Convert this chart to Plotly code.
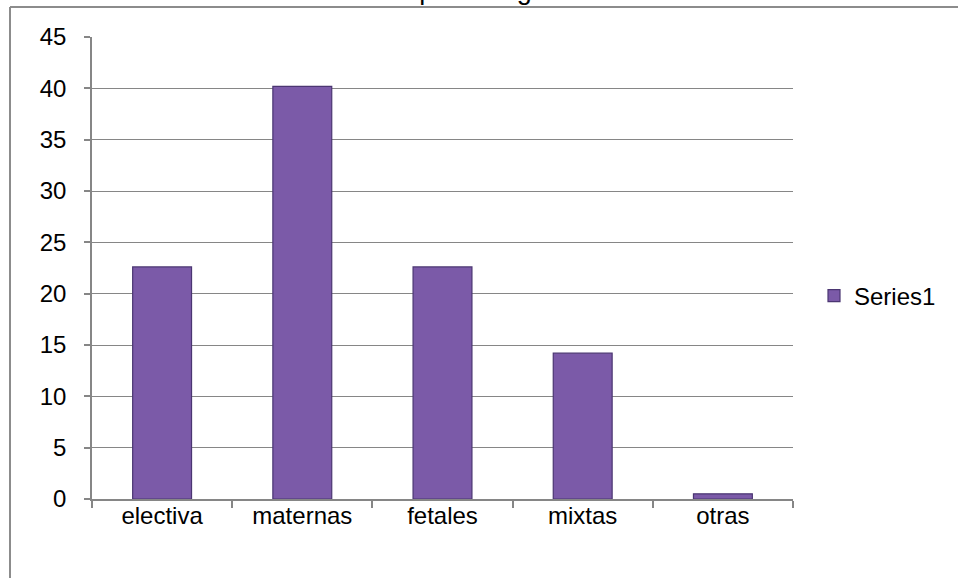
import plotly.graph_objects as go

categories = ["electiva", "maternas", "fetales", "mixtas", "otras"]
values = [22.6, 40.2, 22.6, 14.2, 0.5]
series_name = "Series1"
title_text = "Distribución de las indicaciones por categoría"
y_ticks = [0, 5, 10, 15, 20, 25, 30, 35, 40, 45]

W, H = 958, 578
L, R, T, B = 92, 165, 37, 79
pw, ph = W - L - R, H - T - B

def px_x(p):
    return (p - L) / pw

def px_y(p):
    return (H - B - p) / ph

fig = go.Figure()
fig.add_trace(go.Bar(
    x=categories, y=values, name=series_name,
    marker=dict(color="#7b5aa8", line=dict(color="#4b3672", width=1.2)),
    width=0.42, showlegend=True,
))

font = dict(family="Liberation Sans, Arial, sans-serif", size=24, color="#000000")

fig.update_layout(
    width=W, height=H,
    margin=dict(l=L, r=R, t=T, b=B, autoexpand=False),
    paper_bgcolor="white", plot_bgcolor="white",
    font=font,
    showlegend=True,
    legend=dict(x=px_x(814), y=px_y(296), xanchor="left", yanchor="middle",
                font=font, bgcolor="rgba(0,0,0,0)"),
    xaxis=dict(
        type="category", showline=True, linecolor="#868686", linewidth=1.5,
        ticks="outside", tickson="boundaries", ticklen=7, tickcolor="#868686",
        tickwidth=1.5, showgrid=False, tickfont=font, ticklabelstandoff=-6,
    ),
    yaxis=dict(
        range=[0, 45], tickvals=y_ticks, showline=True, linecolor="#868686",
        linewidth=1.5, ticks="outside", ticklen=6, tickcolor="#868686", tickwidth=1.5,
        showgrid=True, gridcolor="#868686", gridwidth=1.2, zeroline=False,
        tickfont=font, ticklabelstandoff=13,
    ),
    bargap=0.58,
)

# chart area border (left and top edges visible)
fig.add_shape(type="line", xref="paper", yref="paper",
              x0=px_x(10), x1=px_x(10), y0=px_y(7), y1=px_y(H + 5),
              line=dict(color="#8c8c8c", width=2), layer="above")
fig.add_shape(type="line", xref="paper", yref="paper",
              x0=px_x(10), x1=px_x(W + 5), y0=px_y(7), y1=px_y(7),
              line=dict(color="#8c8c8c", width=2), layer="above")

# title, mostly cropped at the top edge (as in the reference)
fig.add_annotation(text=title_text, xref="paper", yref="paper",
                   x=px_x(33), y=px_y(7), xanchor="left", yanchor="bottom",
                   showarrow=False, font=dict(family=font["family"], size=27, color="#000"))

fig.write_html("out.html")
